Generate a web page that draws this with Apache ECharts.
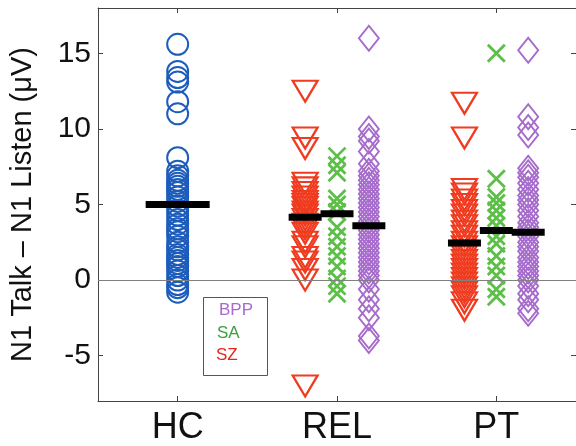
<!DOCTYPE html>
<html>
<head>
<meta charset="utf-8">
<script src="https://cdn.jsdelivr.net/npm/echarts@6/dist/echarts.min.js"></script>
<style>html,body{margin:0;padding:0;background:#fff;}#c{width:576px;height:446px;}</style>
</head>
<body>
<div id="c"></div>
<script>
// ---- data ----
const categories = ['HC', 'REL', 'PT'];
const yTicks = [-5, 0, 5, 10, 15];
const legendNames = ['BPP', 'SA', 'SZ'];

const hcValues = [15.6, 13.8, 13.4, 13.1, 11.8, 11.0, 8.1, 7.2, 6.9, 6.6, 6.4, 6.2, 6.0, 5.8, 5.5, 5.2, 4.9, 4.6, 4.3, 4.0, 3.7, 3.4, 3.2, 2.9, 2.5, 2.2, 2.0, 1.7, 1.5, 1.3, 1.1, 0.9, 0.6, 0.3, 0.0, -0.3, -0.5, -0.8];

const relSZ = [12.5, 9.4, 8.7, 6.4, 6.1, 5.8, 5.5, 5.2, 5.0, 4.8, 4.5, 4.3, 4.0, 3.7, 3.4, 3.1, 2.5, 2.2, 1.5, 1.2, 0.7, 0.0, -7.0];
const relSA = [8.2, 7.6, 7.1, 5.4, 5.0, 4.5, 3.5, 2.9, 2.2, 1.6, 0.9, 0.1, -0.4, -0.9];
const relBPP = [16.0, 10.0, 9.5, 9.2, 8.5, 7.7, 7.2, 6.9, 6.6, 6.3, 6.0, 5.7, 5.4, 5.1, 4.8, 4.5, 4.2, 3.9, 3.6, 3.3, 3.0, 2.7, 2.4, 2.1, 1.8, 1.5, 1.2, 0.9, 0.6, 0.3, 0.0, -0.6, -1.3, -1.9, -2.5, -3.7, -4.0];

const ptSZ = [11.7, 9.4, 6.0, 5.7, 5.3, 5.0, 4.6, 4.3, 3.9, 3.6, 3.2, 2.9, 2.5, 2.2, 1.9, 1.6, 1.3, 1.0, 0.7, 0.4, 0.1, -0.2, -0.5, -0.8, -1.1, -1.5, -2.0];
const ptSA = [15.0, 6.7, 5.5, 5.1, 4.6, 4.1, 3.6, 2.9, 2.4, 1.6, 0.9, 0.3, -0.6, -1.1];
const ptBPP = [15.2, 10.8, 10.1, 9.6, 7.4, 7.1, 6.8, 6.4, 6.0, 5.6, 5.3, 5.0, 4.6, 4.2, 3.8, 3.5, 3.2, 2.9, 2.5, 2.2, 1.9, 1.5, 1.2, 0.9, 0.6, 0.3, 0.0, -0.4, -0.9, -1.3, -1.9, -2.2];

const meanHC = [5.0];
const meanSZ = [4.15, 2.45];   // REL, PT
const meanSA = [4.38, 3.28];
const meanBPP = [3.6, 3.17];

// ---- layout / styles ----
const OFF = 0.2;
const FONT = 'Liberation Sans, Arial, Helvetica, sans-serif';
const C_HC = '#1c5cbc', C_SZ = '#ef3b1f', C_SA = '#5cbf47', C_BPP = '#a66bcc';

function pts(x, vals) { return vals.map(v => [x, v]); }
function means(xs, vals) { return vals.map((v, i) => [xs[i], v]); }

const hollow = (c, w) => ({ color: 'rgba(0,0,0,0)', borderColor: c, borderWidth: w, opacity: 1 });
const X_PATH = 'path://M0,0L10,10M10,0L0,10';

const chart = echarts.init(document.getElementById('c'), null, { renderer: 'canvas' });

const axisLineStyle = { color: '#444', width: 1 };

chart.setOption({
  animation: false,
  backgroundColor: '#fff',
  textStyle: { fontFamily: FONT },
  grid: { left: 97, right: -3, top: 8, bottom: 44, containLabel: false },
  xAxis: [
    {
      type: 'value', min: 0.5, max: 3.5, position: 'bottom',
      axisLine: { show: true, onZero: false, lineStyle: axisLineStyle },
      axisTick: { show: true, inside: true, length: 5, lineStyle: axisLineStyle, customValues: [1, 2, 3] },
      axisLabel: { show: true, customValues: [1, 2, 3], formatter: v => categories[Math.round(v) - 1] || '',
                   fontSize: 36, color: '#111', fontFamily: FONT, margin: 9 },
      splitLine: { show: false }
    },
    {
      type: 'value', min: 0.5, max: 3.5, position: 'top',
      axisLine: { show: true, onZero: false, lineStyle: axisLineStyle },
      axisTick: { show: true, inside: true, length: 5, lineStyle: axisLineStyle, customValues: [1, 2, 3] },
      axisLabel: { show: false },
      splitLine: { show: false }
    }
  ],
  yAxis: [
    {
      type: 'value', min: -8, max: 18, position: 'left',
      name: 'N1 Talk \u2013 N1 Listen (\u03BCV)', nameLocation: 'middle', nameGap: 61,
      nameTextStyle: { fontSize: 29, color: '#111', fontFamily: FONT },
      axisLine: { show: true, onZero: false, lineStyle: axisLineStyle },
      axisTick: { show: true, inside: true, length: 5, lineStyle: axisLineStyle, customValues: yTicks },
      axisLabel: { show: true, customValues: yTicks, fontSize: 30, color: '#111', fontFamily: FONT, margin: 7 },
      splitLine: { show: false }
    },
    {
      type: 'value', min: -8, max: 18, position: 'right',
      axisLine: { show: true, onZero: false, lineStyle: axisLineStyle },
      axisTick: { show: true, inside: true, length: 5, lineStyle: axisLineStyle, customValues: yTicks },
      axisLabel: { show: false },
      splitLine: { show: false }
    }
  ],
  series: [
    {
      name: 'HC', type: 'scatter', data: pts(1, hcValues), symbol: 'circle', symbolSize: 21,
      itemStyle: hollow(C_HC, 2), z: 3, silent: true,
      markLine: { silent: true, symbol: 'none', label: { show: false },
                  lineStyle: { color: '#808080', width: 1.2, type: 'solid', opacity: 1 }, data: [{ yAxis: 0 }] }
    },
    { name: 'SZ', type: 'scatter', data: pts(2 - OFF, relSZ).concat(pts(3 - OFF, ptSZ)),
      symbol: 'triangle', symbolRotate: 180, symbolSize: [25, 21],
      itemStyle: hollow(C_SZ, 2.2), z: 3, silent: true },
    { name: 'SA', type: 'scatter', data: pts(2, relSA).concat(pts(3, ptSA)),
      symbol: X_PATH, symbolSize: [17, 17],
      itemStyle: hollow(C_SA, 2.8), z: 3, silent: true },
    { name: 'BPP', type: 'scatter', data: pts(2 + OFF, relBPP).concat(pts(3 + OFF, ptBPP)),
      symbol: 'diamond', symbolSize: [20, 25],
      itemStyle: hollow(C_BPP, 1.9), z: 3, silent: true },
    { name: 'meanHC', type: 'scatter', data: means([1], meanHC), symbol: 'rect', symbolSize: [64, 7],
      itemStyle: { color: '#000', opacity: 1 }, z: 10, silent: true },
    { name: 'meanSub', type: 'scatter',
      data: means([2 - OFF, 3 - OFF], meanSZ).concat(means([2, 3], meanSA)).concat(means([2 + OFF, 3 + OFF], meanBPP)),
      symbol: 'rect', symbolSize: [33, 7], itemStyle: { color: '#000', opacity: 1 }, z: 10, silent: true }
  ],
  graphic: [
    { type: 'rect', left: 203, top: 297, z: 100,
      shape: { width: 64, height: 78 }, style: { fill: '#fff', stroke: '#555', lineWidth: 1 } },
    { type: 'text', left: 219, top: 302, z: 101,
      style: { text: legendNames[0], fill: C_BPP, font: '17px ' + FONT } },
    { type: 'text', left: 217, top: 325, z: 101,
      style: { text: legendNames[1], fill: '#3f9c3f', font: '17px ' + FONT } },
    { type: 'text', left: 216, top: 347, z: 101,
      style: { text: legendNames[2], fill: '#e8251c', font: '17px ' + FONT } }
  ]
});
</script>
</body>
</html>
